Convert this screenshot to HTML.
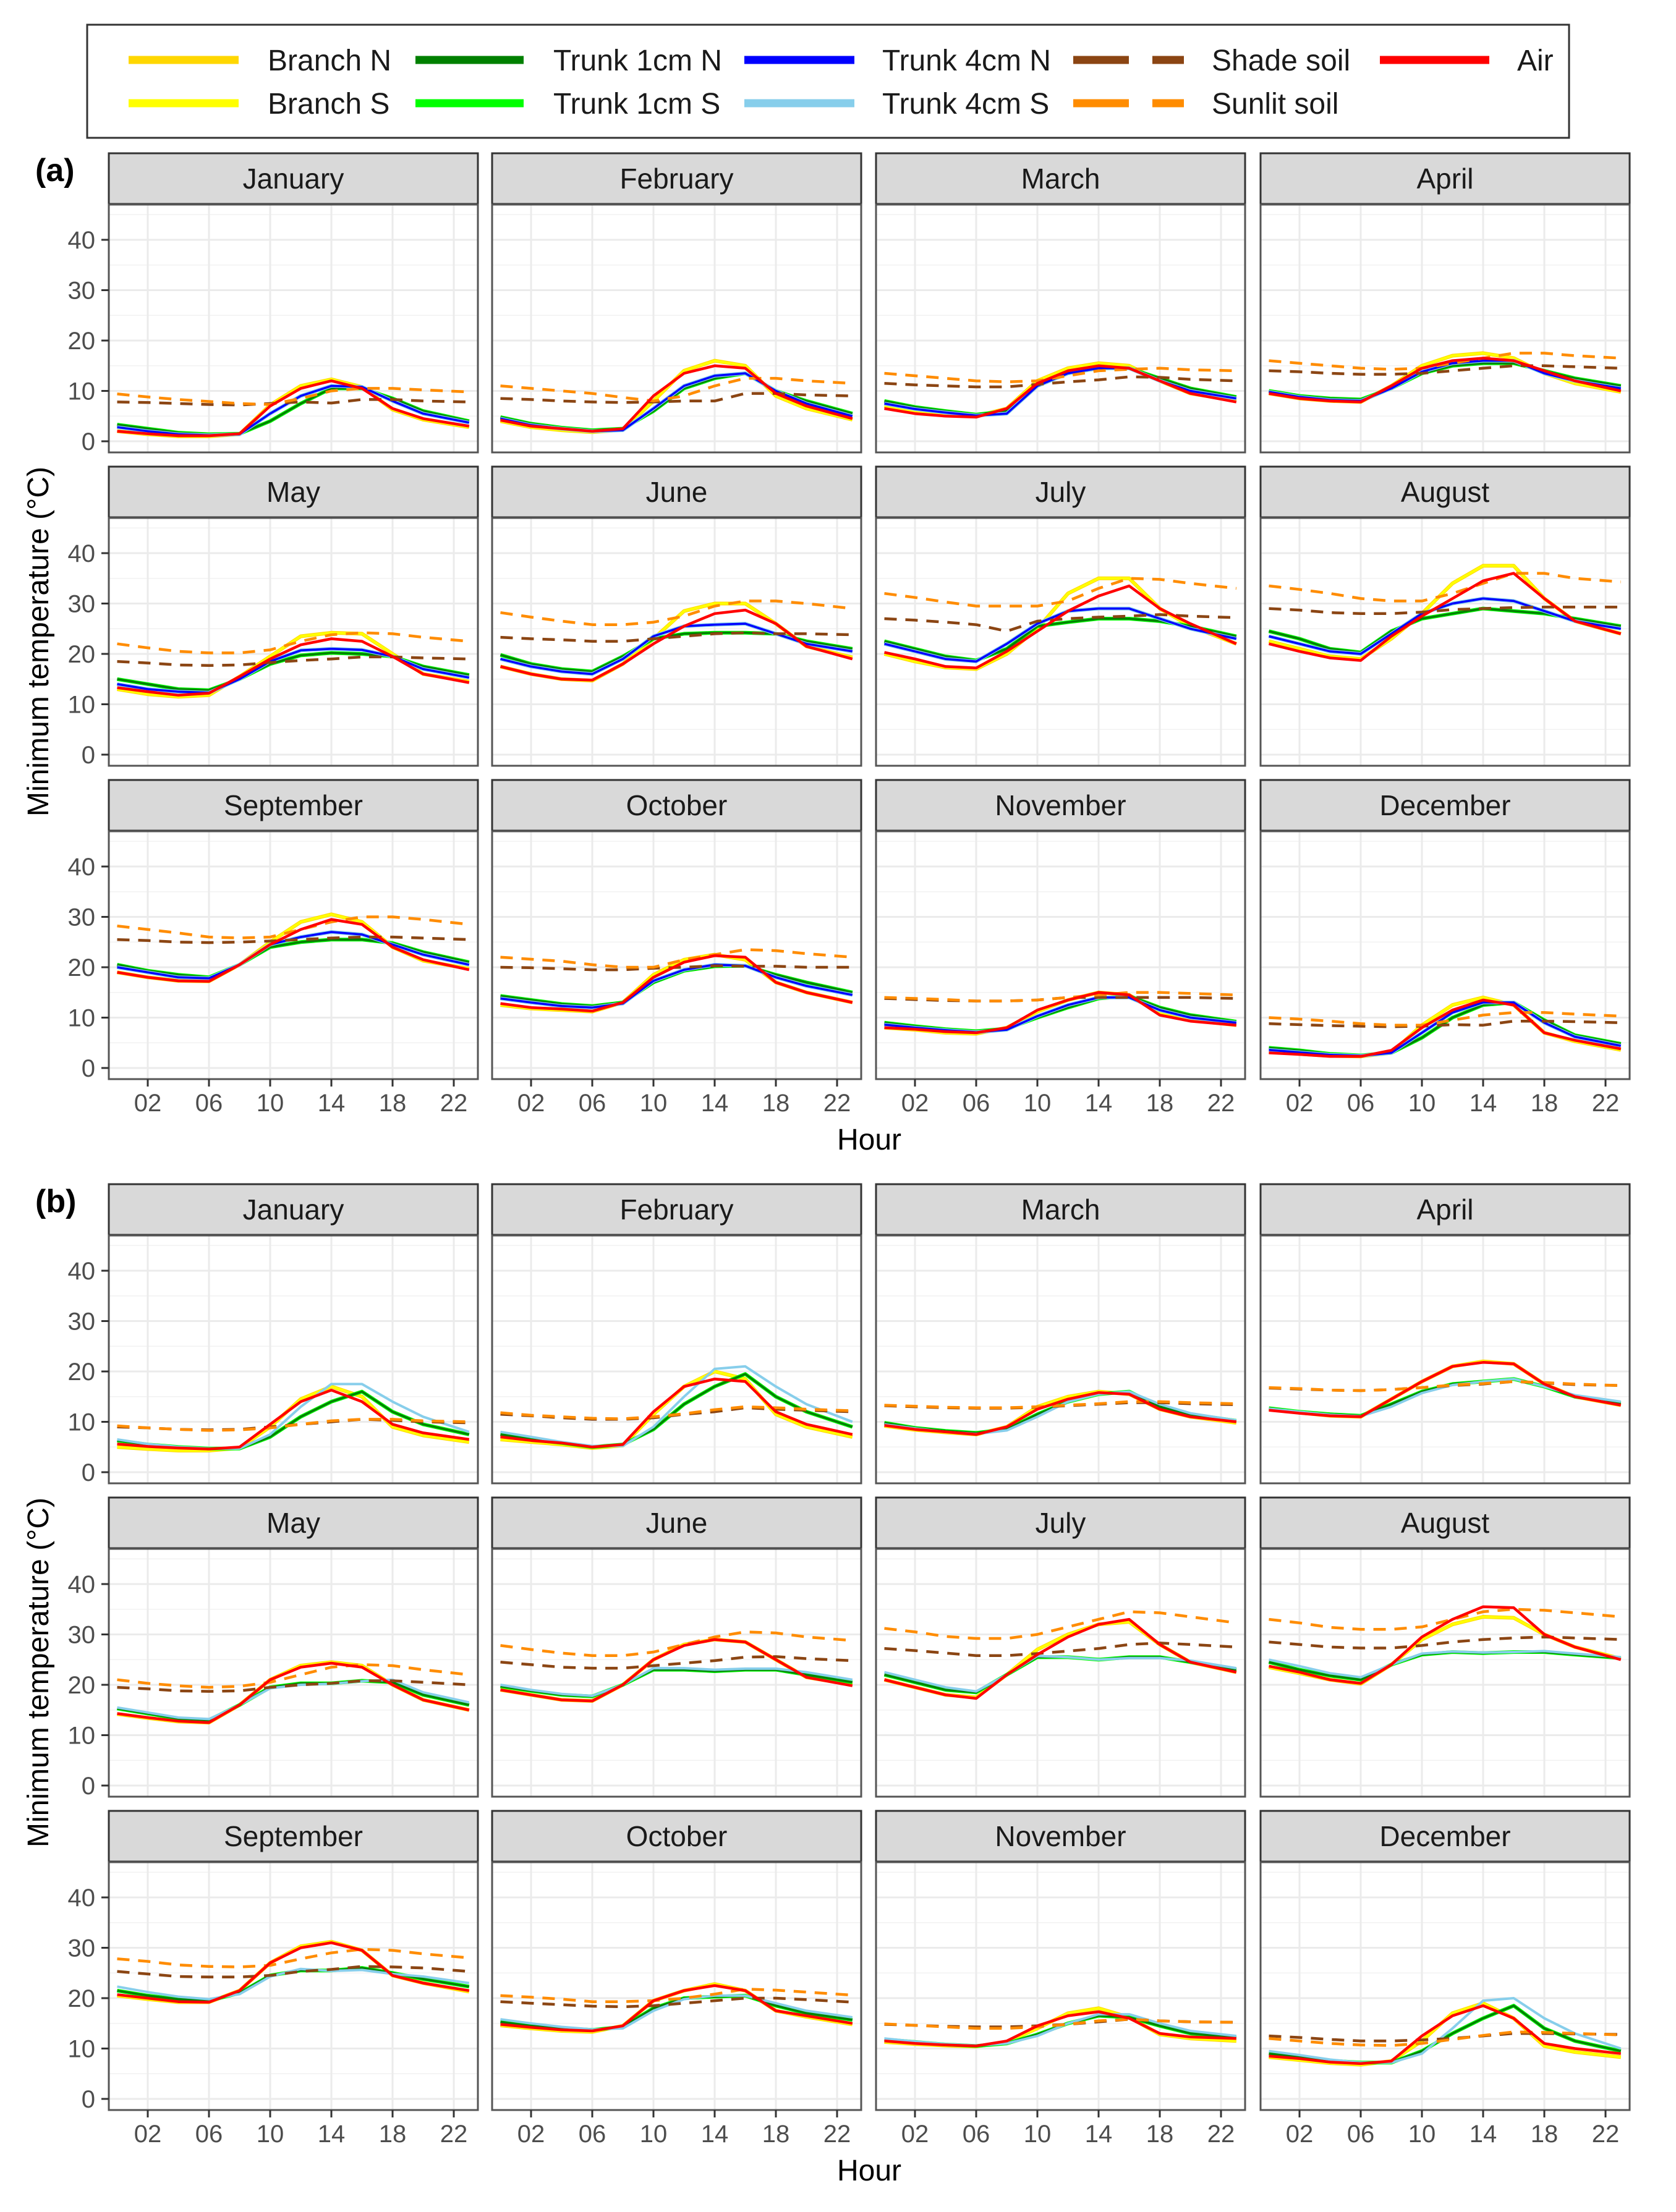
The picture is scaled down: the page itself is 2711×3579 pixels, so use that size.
<!DOCTYPE html>
<html><head><meta charset="utf-8"><title>Minimum temperature by hour</title>
<style>
html,body{margin:0;padding:0;background:#fff;}
svg{display:block;font-family:"Liberation Sans",Arial,sans-serif;}
</style></head>
<body>
<svg id="chart" width="2711" height="3579" viewBox="0 0 2711 3579" xmlns="http://www.w3.org/2000/svg">
<rect x="0" y="0" width="2711" height="3579" fill="#fff"/>
<g>
<rect x="141" y="40" width="2397" height="183" fill="#fff" stroke="#333" stroke-width="3"/>
<line x1="208" y1="97" x2="386" y2="97" stroke="#FFD700" stroke-width="13"/>
<text x="433" y="114" font-size="48" fill="#1a1a1a">Branch N</text>
<line x1="208" y1="167" x2="386" y2="167" stroke="#FFFF00" stroke-width="13"/>
<text x="433" y="184" font-size="48" fill="#1a1a1a">Branch S</text>
<line x1="672" y1="97" x2="847" y2="97" stroke="#008000" stroke-width="13"/>
<text x="895" y="114" font-size="48" fill="#1a1a1a">Trunk 1cm N</text>
<line x1="672" y1="167" x2="847" y2="167" stroke="#00FF00" stroke-width="13"/>
<text x="895" y="184" font-size="48" fill="#1a1a1a">Trunk 1cm S</text>
<line x1="1204" y1="97" x2="1382" y2="97" stroke="#0000FF" stroke-width="13"/>
<text x="1427" y="114" font-size="48" fill="#1a1a1a">Trunk 4cm N</text>
<line x1="1204" y1="167" x2="1382" y2="167" stroke="#87CEEB" stroke-width="13"/>
<text x="1427" y="184" font-size="48" fill="#1a1a1a">Trunk 4cm S</text>
<line x1="1736" y1="97" x2="1915" y2="97" stroke="#8B4513" stroke-width="13" stroke-dasharray="90,38"/>
<text x="1960" y="114" font-size="48" fill="#1a1a1a">Shade soil</text>
<line x1="1736" y1="167" x2="1915" y2="167" stroke="#FF8C00" stroke-width="13" stroke-dasharray="90,38"/>
<text x="1960" y="184" font-size="48" fill="#1a1a1a">Sunlit soil</text>
<line x1="2232" y1="97" x2="2409" y2="97" stroke="#FF0000" stroke-width="13"/>
<text x="2454" y="114" font-size="48" fill="#1a1a1a">Air</text>
</g>
<g id="plots"></g>
</svg>
<script>
const months = ["January","February","March","April","May","June","July","August","September","October","November","December"];
const hours = [0,2,4,6,8,10,12,14,16,18,20,23];
const yTicks = [0,10,20,30,40];
const xTicks = [2,6,10,14,18,22];
const xTickLabels = ["02","06","10","14","18","22"];

// Panel (a)
const a_air = [
[2,1.5,1.1,1.1,1.5,7,10.5,12,10.5,6.5,4.5,3],
[4.2,3,2.5,2,2.5,9,13.5,15,14.5,9.5,7,4.5],
[6.5,5.5,5,4.8,6.5,11.5,14,15,14.5,12,9.5,7.8],
[9.5,8.5,8,7.8,11,14.5,16,16.5,16,14,12,10],
[13.3,12.5,11.8,12.2,15.5,19,21.8,23,22.5,19.5,16,14.3],
[17.5,16,15,14.8,18,22,25.5,28,28.7,26,21.5,19],
[20.3,19,17.5,17.2,20.5,24.5,28.5,31.5,33.5,29,26,22],
[22,20.5,19.2,18.7,23.5,27.5,31,34.5,36,31,26.5,24],
[19,18,17.3,17.2,20.5,24.5,27.5,29.5,28.5,24,21.5,19.5],
[12.8,12,11.7,11.3,13,18,21,22.3,22,17,15,13],
[8,7.7,7.2,7,8,11.5,13.5,15,14.5,10.5,9.3,8.5],
[3,2.7,2.3,2.3,3.5,8,11.5,13.5,12.5,7,5.5,3.8]];
const a_branch = [
[2,1.4,1,1,1.4,7.2,11,12.3,10.8,6.3,4.3,2.8],
[4,2.8,2.2,1.8,2.3,8,14,16,15,9,6.5,4.3],
[7,6,5.3,5,6.5,12,14.5,15.5,15,12,9.5,8],
[9.5,8.5,8,7.8,11,15,17,17.5,16.5,13.5,11.5,9.8],
[13,12,11.5,11.8,15.5,19.5,23.5,24.2,24,20,16,14.5],
[17.5,16,15,14.7,18,23,28.5,30,30,26,21.5,19.3],
[20,18.5,17.3,17,20,25,32,35,35,29,25.5,22],
[22.5,21,19.5,19,23,28,34,37.5,37.5,31,26.5,24],
[19,18,17.3,17.2,20.5,25,29,30.5,29,24,21.3,19.7],
[12.5,11.8,11.5,11.2,13,18.5,21.5,22.5,21.5,17,15,13],
[8,7.6,7,6.8,8,11.2,13.5,15,14.5,10.8,9.5,8.5],
[3.2,2.8,2.4,2.3,3,8.5,12.5,14,12.5,7,5.3,3.6]];
const a_t1 = [
[3.3,2.5,1.7,1.4,1.5,4,7.5,10.5,10.5,8.5,6,4],
[4.8,3.5,2.7,2.2,2.5,6,10.5,12.5,13.5,10,8,5.5],
[8,6.8,6,5.3,6,11,13.5,14.5,14.5,12.5,10.5,8.8],
[10,9,8.5,8.3,10.5,13.5,15,15.5,15.5,14,12.5,11],
[15,14,13,12.8,15,18,19.7,20.2,20,19.5,17.5,15.8],
[19.8,18,17,16.5,19.5,23,24,24.2,24.2,24,22.5,21],
[22.5,21,19.5,18.7,21,25.5,26.3,27,27,26.5,25.5,23.5],
[24.5,23,21,20.3,24.5,27,28,29,28.5,28,27,25.5],
[20.5,19.3,18.5,18,20.5,24,25,25.5,25.5,24.8,23,21],
[14.3,13.5,12.7,12.3,13,17,19.3,20.2,20.3,18.5,17,15],
[9,8.3,7.7,7.3,7.8,10,12,13.8,14.3,12,10.5,9.2],
[4,3.5,2.8,2.5,3,6,10,12.5,13,9.5,6.5,4.8]];
const a_t4 = [
[2.8,2,1.4,1.2,1.4,5.5,9,11,10.8,8,5.5,3.7],
[4.5,3.2,2.5,2,2.2,6.5,11,13,13.5,10,7.5,5],
[7.5,6.4,5.7,5.1,5.5,11,13.5,14.5,14.5,12,10,8.5],
[9.8,8.8,8.2,8,10.5,13.8,15.5,16,16,13.5,12,10.5],
[14,13,12.5,12.3,15,18.5,20.7,21,20.8,19.5,17,15.3],
[19,17.5,16.5,16,19,23.5,25.5,25.8,26,24,22,20.5],
[22,20.5,19,18.5,22,26,28.5,29,29,27,25,23],
[23.5,22,20.5,20,24,28,30,31,30.5,28.5,26.5,25],
[20,19,18,17.8,20.5,24.5,26,27,26.5,24.5,22.5,20.5],
[13.8,13,12.3,12,12.8,17.3,19.5,20.5,20.3,18,16.3,14.5],
[8.6,8,7.5,7.1,7.6,10.3,12.5,14,14,11.5,10,9],
[3.6,3.1,2.6,2.4,3,7,11,13,13,9,6.2,4.4]];
const a_shade = [
[7.8,7.7,7.5,7.3,7.2,7.5,7.8,7.6,8.3,8.3,8,7.8],
[8.5,8.3,8,7.8,7.7,7.8,8,8,9.5,9.5,9.2,9],
[11.5,11.2,11,10.8,10.8,11.3,11.8,12.2,12.8,12.7,12.3,12],
[14,13.8,13.5,13.3,13.3,13.5,14,14.5,15,15,14.8,14.5],
[18.5,18.2,17.8,17.7,17.8,18.3,18.7,19,19.4,19.4,19.2,19],
[23.3,23,22.8,22.5,22.5,23,23.5,24,24.2,24,24,23.8],
[27,26.7,26.3,25.8,24.5,26.5,27,27.3,27.5,27.8,27.5,27.2],
[29,28.7,28.2,28,28,28.3,28.8,29,29.2,29.3,29.3,29.3],
[25.5,25.3,25,24.9,25,25.2,25.5,25.8,26,26,25.8,25.5],
[20,19.9,19.7,19.5,19.5,19.8,20,20.3,20.2,20.2,20,20],
[13.8,13.6,13.4,13.3,13.3,13.5,14,14,14,14,14,13.8],
[8.8,8.6,8.4,8.3,8.2,8.3,8.6,8.5,9.3,9.3,9.2,9]];
const a_sun = [
[9.4,8.8,8.3,7.9,7.5,7.3,8.5,10,10.5,10.5,10.2,9.8],
[11,10.5,10,9.5,8.7,8,9,11,12.5,12.5,12,11.5],
[13.5,13,12.5,12,11.8,12,13,14,14.3,14.5,14.2,14],
[16,15.5,15,14.5,14.3,14.5,15.5,16.5,17.5,17.5,17,16.5],
[22,21.2,20.5,20.2,20.2,20.8,22.5,23.8,24.2,24,23.3,22.5],
[28.2,27.3,26.5,25.8,25.8,26.3,27.5,29.5,30.5,30.5,30,29],
[32,31.2,30.3,29.5,29.5,29.5,30.5,33,35,34.8,34,33],
[33.5,32.8,32,31,30.5,30.5,32,34,36,36,35,34.3],
[28.2,27.5,26.8,26,25.8,26,27.5,29,30,30,29.5,28.5],
[22,21.6,21.2,20.5,20,20,21.5,22.5,23.5,23.3,22.7,22],
[14,13.8,13.6,13.3,13.3,13.5,14,14.5,15,15,14.8,14.5],
[10,9.7,9.3,8.8,8.5,8.5,9.5,10.5,11,11,10.7,10.3]];

// Panel (b)
const b_air = [
[5.6,5.1,4.8,4.6,5,9.5,14,16.3,14,9.5,7.8,6.5],
[7,6.3,5.8,5,5.5,12,17,18.5,18,12,9.5,7.5],
[9.3,8.5,8,7.5,9,12.5,14.5,15.8,15.5,12.5,11,10],
[12.3,11.7,11.2,11,14.5,18,21,21.8,21.5,17.5,15,13.3],
[14.3,13.5,12.8,12.5,16,21,23.5,24.3,23.5,20,17,15],
[19,18,17,16.8,20,25,27.8,29,28.5,25,21.5,19.8],
[21,19.5,18,17.3,22,26,29.5,32,33,28,24.5,22.5],
[23.7,22.5,21,20.3,24,29.5,33,35.5,35.3,30,27.5,25],
[20.7,20,19.3,19.2,21.5,27,30,31,29.5,24.5,23,21.5],
[14.8,14.2,13.7,13.5,14.5,19.5,21.5,22.5,21.5,17.5,16.5,15],
[11.5,11,10.7,10.5,11.5,14.5,16.5,17.3,16,13,12.3,12],
[8.5,8,7.3,7,7.5,12.5,16.5,18.5,16,11,10,9]];
const b_branch = [
[5,4.6,4.3,4.3,4.8,9,14.5,17,15,9,7.3,6],
[6.5,6,5.5,4.8,5.3,11.5,17,20,18.5,11.5,9,7],
[9.2,8.4,7.9,7.5,9,13,15,16,15.5,12.5,11,9.8],
[12.5,11.8,11.2,11,14.5,18,21,22,21.5,17.5,15,13.3],
[14.2,13.4,12.7,12.5,16,21,23.8,24.5,23.8,20,17,15],
[19,18,17,16.8,20,25,28,29,28.5,25,21.5,20],
[21,19.5,18,17.5,22,27,30,32,32.5,28,24.5,22.5],
[23.5,22.3,21,20.2,24,29,32,33.5,33.3,30,27.5,25.2],
[20.5,19.8,19.2,19.2,21.5,27,30.3,31.2,29.5,24.5,23,21.3],
[14.6,14,13.5,13.3,14.5,19.5,21.5,22.8,21.5,17.5,16.3,14.8],
[11.3,10.9,10.6,10.4,11.3,14,17,18,16.2,12.8,12,11.5],
[8.3,7.7,7.1,6.8,7.5,11.5,17,19,16,10.5,9.3,8.3]];
const b_t1 = [
[6.3,5.5,5,4.7,4.7,7,11,14,16,12,9.5,7.5],
[7.5,6.5,5.8,5,5.5,8.5,13.5,17,19.5,15,12,9],
[9.8,8.8,8.2,7.8,8.5,11.5,14,15.5,16,13,11.5,10.2],
[12.7,12,11.5,11.2,13.5,16,17.5,18,18.5,17,15,13.7],
[15.3,14.3,13.3,13,16,19.5,20.3,20.3,20.8,20.5,18,16],
[19.7,18.8,18,17.7,20,23,23,22.7,23,23,22,20.5],
[22,20.5,19,18.5,22,25.5,25.5,25,25.5,25.5,24.5,23],
[24.5,23,21.8,21,24,26,26.5,26.3,26.5,26.5,26,25.3],
[21.5,20.5,19.8,19.5,21,24.5,25.5,25.5,26,25,23.8,22.3],
[15.3,14.5,14,13.7,14.3,18,20,20.3,20.5,18.5,17,15.7],
[11.8,11.3,10.8,10.5,11,12.8,15,16.5,16.2,14.5,13,12.2],
[9,8.3,7.6,7.2,7.2,9.5,13,16,18.5,14,11.5,9.5]];
const b_t4 = [
[6.5,5.6,5,4.7,4.7,7.5,13,17.5,17.5,14,11,8],
[8,7,6,5.2,5.2,9,15,20.5,21,17,13.5,10],
[9.5,8.7,8,7.6,8.3,11,14,15.5,16,13.5,11.7,10.3],
[12.6,12,11.4,11.1,13,15.7,17.3,18,18.5,17,15.3,14],
[15.5,14.5,13.5,13.2,16,19.3,20,20.2,20.7,21,18.5,16.5],
[20,19,18.2,17.8,20,23.3,23.3,23,23.2,23.2,22.5,21],
[22.5,21,19.5,18.7,22,25.7,25.5,25,25.3,25.3,24.8,23.3],
[25,23.7,22.3,21.5,24,26.2,26.6,26.4,26.5,26.7,26.2,25.5],
[22.3,21.2,20.3,19.8,20.8,24.3,25.8,25.4,25.6,24.8,24.3,23],
[15.8,15,14.3,13.8,14,17.5,19.8,20.5,20.5,19,17.5,16.2],
[12,11.4,10.9,10.6,11,12.5,15,16.8,16.8,15,13.5,12.5],
[9.5,8.7,7.8,7.2,7.2,9,14,19.5,20,16,13,10]];
const b_shade = [
[9,8.8,8.5,8.4,8.5,9,9.5,10,10.5,10.3,10,9.8],
[11.5,11.2,10.8,10.5,10.5,10.8,11.5,12,12.8,12.5,12.3,12],
[13.2,13,12.8,12.7,12.7,12.9,13.2,13.5,13.8,13.8,13.6,13.4],
[16.7,16.5,16.3,16.2,16.4,16.8,17.2,17.5,18,17.7,17.4,17.2],
[19.5,19.2,18.8,18.7,18.8,19.5,20,20.3,20.8,20.8,20.5,20],
[24.5,24,23.5,23.3,23.3,23.8,24.3,24.8,25.5,25.6,25.2,24.8],
[27.2,26.8,26.3,25.8,25.8,26.2,26.7,27.2,28,28.3,28,27.5],
[28.5,28,27.5,27.3,27.3,27.8,28.5,29,29.3,29.5,29.3,29],
[25.3,24.8,24.3,24.2,24.2,24.5,25.3,25.7,26.3,26.2,26,25.3],
[19.3,19,18.7,18.4,18.3,18.5,19,19.5,20,20,19.7,19.2],
[14.8,14.6,14.4,14.3,14.3,14.5,14.8,15.3,15.8,15.5,15.3,15.2],
[12.5,12.2,11.8,11.5,11.5,11.7,12,12.5,13,13,12.9,12.8]];
const b_sun = [
[9.2,8.8,8.5,8.3,8.4,8.8,9.5,10.2,10.5,10.5,10.2,10],
[11.8,11.3,11,10.7,10.6,11,11.6,12.4,13,12.8,12.5,12.2],
[13.3,13.1,12.9,12.8,12.8,13,13.3,13.6,14,14,13.8,13.6],
[16.8,16.6,16.3,16.2,16.4,16.8,17.3,17.6,18,17.8,17.5,17.2],
[21,20.3,19.8,19.5,19.7,20.5,22,23.5,24,23.8,23,22],
[27.8,27,26.3,25.8,25.8,26.5,28,29.5,30.5,30.3,29.5,28.8],
[31.2,30.5,29.6,29.2,29.2,30,31.5,33,34.5,34.3,33.5,32.3],
[33,32.3,31.4,31,31,31.5,33,34.5,35,34.8,34.3,33.5],
[27.8,27.3,26.6,26.3,26.2,26.5,27.8,29,29.7,29.5,28.8,28],
[20.5,20.2,19.8,19.3,19.3,19.5,20,20.8,21.8,21.6,21.2,20.6],
[14.9,14.6,14.3,14,14,14.3,14.8,15.5,15.8,15.5,15.3,15.2],
[12,11.5,11,10.7,10.6,11,11.8,12.6,13.3,13.2,13,12.7]];

(function(){
  const NS = "http://www.w3.org/2000/svg";
  const root = document.getElementById("plots");
  const colLeft = [176, 796, 1417, 2039];
  const PW = 597;
  const figs = [
    {tag:"a", rows:[248,755,1262], air:a_air, branch:a_branch, t1:a_t1, t4:a_t4, shade:a_shade, sun:a_sun, showT4N:true},
    {tag:"b", rows:[1916,2423,2930], air:b_air, branch:b_branch, t1:b_t1, t4:b_t4, shade:b_shade, sun:b_sun, showT4N:false}
  ];
  function mk(tag, attrs, parent){
    const e = document.createElementNS(NS, tag);
    for (const k in attrs) e.setAttribute(k, attrs[k]);
    parent.appendChild(e);
    return e;
  }
  function xs(L, h){ return L + 13.5 + h * 24.75; }
  function ys(T, v){ return T + 466 - v * 8.15; }
  function pathFor(L, T, vals){
    return vals.map((v,i)=>(i?"L":"M")+xs(L,hours[i]).toFixed(1)+","+ys(T,v).toFixed(1)).join(" ");
  }
  figs.forEach(fig=>{
    const g = mk("g", {}, root);
    
    
    const lab = mk("text", {x:57, y:fig.rows[0]+45, "font-size":52, "font-weight":"bold", fill:"#000"}, g);
    lab.textContent = "(" + fig.tag + ")";
    
    
    const yt = mk("text", {x:0, y:0, "font-size":48, fill:"#000", "text-anchor":"middle", transform:"translate(78,"+(fig.rows[1]+283)+") rotate(-90)"}, g);
    yt.textContent = "Minimum  temperature (°C)";
    yt.setAttribute('xml:space', 'preserve');
    
    
    const xt = mk("text", {x:1406, y:fig.rows[2]+598, "font-size":48, fill:"#000", "text-anchor":"middle"}, g);
    xt.textContent = "Hour";
    
    
    for (let m=0; m<12; m++){
      const r = Math.floor(m/4), c = m%4;
      const L = colLeft[c], T = fig.rows[r];
      const pg = mk("g", {}, g);
      
      
      // strip
      const st = mk("rect", {x:L, y:T, width:PW, height:82, fill:"#d9d9d9", stroke:"#333", "stroke-width":3}, pg);
      
      
      const stt = mk("text", {x:L+PW/2, y:T+57, "font-size":46, fill:"#1a1a1a", "text-anchor":"middle"}, pg);
      stt.textContent = months[m];
      
      
      const PT = T+83, PB = T+484;
      // grid
      [5,15,25,35,45].forEach(v=>{
        const ln = mk("line", {x1:L, x2:L+PW, y1:ys(T,v), y2:ys(T,v), stroke:"#f2f2f2", "stroke-width":1.5}, pg);
        
        
      });
      yTicks.forEach(v=>{
        const ln = mk("line", {x1:L, x2:L+PW, y1:ys(T,v), y2:ys(T,v), stroke:"#ebebeb", "stroke-width":3}, pg);
        
        
      });
      xTicks.forEach(h=>{
        const ln = mk("line", {x1:xs(L,h), x2:xs(L,h), y1:PT, y2:PB, stroke:"#ebebeb", "stroke-width":3}, pg);
        
        
      });
      // series
      const series = [
        {n:"branch-n", d:fig.branch[m], c:"#FFD700", w:6, dash:null},
        {n:"branch-s", d:fig.branch[m], c:"#FFFF00", w:4, dash:null},
        {n:"trunk-1cm-s", d:fig.t1[m], c:"#00FF00", w:6, dash:null},
        {n:"trunk-1cm-n", d:fig.t1[m], c:"#008000", w:3.5, dash:null},
        {n:"trunk-4cm-s", d:fig.t4[m], c:"#87CEEB", w:fig.showT4N?6:4, dash:null},
        {n:"trunk-4cm-n", d:fig.t4[m], c:"#0000FF", w:3.5, dash:null, skip:!fig.showT4N},
        {n:"shade-soil", d:fig.shade[m], c:"#8B4513", w:4.5, dash:"20,14"},
        {n:"sunlit-soil", d:fig.sun[m], c:"#FF8C00", w:4.5, dash:"20,14"},
        {n:"air", d:fig.air[m], c:"#FF0000", w:4.5, dash:null}
      ];
      series.forEach(s=>{
        if (s.skip) return;
        const a = {d:pathFor(L,T,s.d), fill:"none", stroke:s.c, "stroke-width":s.w, "stroke-linejoin":"round"};
        if (s.dash) a["stroke-dasharray"] = s.dash;
        const p = mk("path", a, pg);
        
        
      });
      // border
      const bd = mk("rect", {x:L, y:PT, width:PW, height:PB-PT, fill:"none", stroke:"#555", "stroke-width":3}, pg);
      
      
      // y axis
      if (c===0){
        yTicks.forEach(v=>{
          const tk = mk("line", {x1:L-12, x2:L, y1:ys(T,v), y2:ys(T,v), stroke:"#333", "stroke-width":3}, pg);
          
          
          const tl = mk("text", {x:L-22, y:ys(T,v)+14, "font-size":40, fill:"#4d4d4d", "text-anchor":"end"}, pg);
          tl.textContent = String(v);
          
          
        });
      }
      // x axis
      if (r===2){
        xTicks.forEach((h,i)=>{
          const tk = mk("line", {x1:xs(L,h), x2:xs(L,h), y1:PB, y2:PB+12, stroke:"#333", "stroke-width":3}, pg);
          
          
          const tl = mk("text", {x:xs(L,h), y:PB+52, "font-size":40, fill:"#4d4d4d", "text-anchor":"middle"}, pg);
          tl.textContent = xTickLabels[i];
          
          
        });
      }
    }
  });
})();
</script>
</body></html>
